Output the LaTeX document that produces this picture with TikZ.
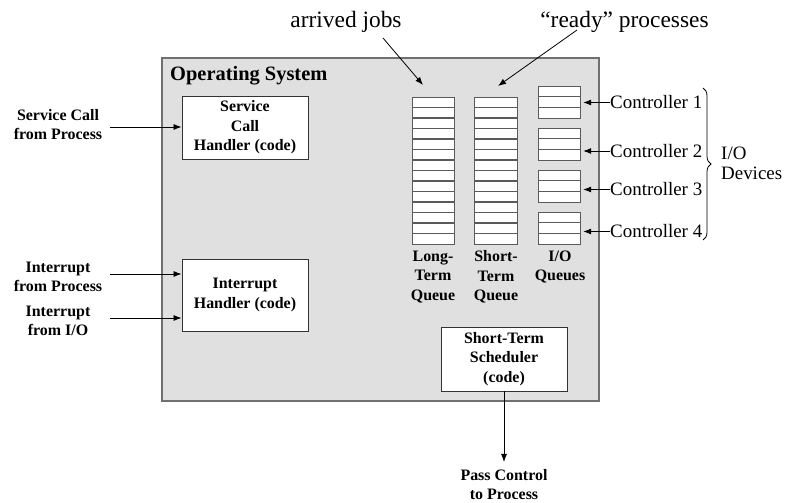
\documentclass[tikz,border=0pt]{standalone}
\usepackage{fontspec}
\setmainfont{Liberation Serif}
\usetikzlibrary{arrows.meta,decorations.pathreplacing,calc}
\definecolor{osfill}{HTML}{E0E0E0}
\definecolor{osline}{HTML}{707070}
\definecolor{qline}{HTML}{5A5A5A}
\begin{document}
\begin{tikzpicture}[x=1bp,y=-1bp,
  osbox/.style={draw=osline,line width=1.6bp,fill=osfill,inner sep=0pt},
  handler/.style={draw=black!80,line width=0.9bp,fill=white,inner sep=0pt,align=center,
    font=\bfseries\fontsize{16}{19.5}\selectfont},
  lbl/.style={inner sep=0pt,align=center,font=\bfseries\fontsize{16}{19.5}\selectfont},
  plain/.style={inner sep=0pt,font=\fontsize{19}{20}\selectfont},
  toplbl/.style={inner sep=0pt,font=\fontsize{23.5}{26}\selectfont},
  queue/.style={draw=qline,line width=1.2bp,fill=white,inner sep=0pt,anchor=north west},
  qdiv/.style={draw=qline,line width=1.2bp},
  arr/.style={-{Latex[length=8bp,width=6bp]},line width=0.8bp,black}]
\useasboundingbox (0,0) rectangle (794,503);

% operating system box
\node[osbox,anchor=north west,minimum width=437bp,minimum height=343bp] (os) at (161,57) {};
\node[anchor=base west,inner sep=0pt,font=\bfseries\fontsize{20.5}{24}\selectfont] (ostitle) at (170,81) {Operating System};

% handlers
\node[handler,minimum width=126bp,minimum height=63bp] (sch) at (245,127.5) {Service\\Call\\Handler (code)};
\node[handler,minimum width=126bp,minimum height=72bp] (ih) at (245,295) {Interrupt\\Handler (code)};
\node[handler,minimum width=126bp,minimum height=64bp] (sts) at (504,359) {Short-Term\\Scheduler\\(code)};

% queues
\node[queue,minimum width=42bp,minimum height=147bp] (ltq) at (412,97) {};
\node[queue,minimum width=43bp,minimum height=147bp] (stq) at (474,97) {};
\foreach \i in {1,...,13}{
  \draw[qdiv] (412,{97+\i*147/14}) -- (454,{97+\i*147/14});
  \draw[qdiv] (474,{97+\i*147/14}) -- (517,{97+\i*147/14});
}
\foreach \n/\t in {1/86,2/128,3/170,4/212}{
  \node[queue,minimum width=42bp,minimum height=32bp] (iq\n) at (538,\t) {};
  \draw[qdiv] (538,{\t+32/3}) -- (580,{\t+32/3});
  \draw[qdiv] (538,{\t+64/3}) -- (580,{\t+64/3});
}

% queue labels
\node[lbl] (ltql) at (433,277) {Long-\\Term\\Queue};
\node[lbl] (stql) at (496,277) {Short-\\Term\\Queue};
\node[lbl] (iql) at (560,267) {I/O\\Queues};

% left inputs
\node[lbl] (scp) at (58,124.5) {Service Call\\from Process};
\node[lbl] (ifp) at (58,277) {Interrupt\\from Process};
\node[lbl] (ifio) at (58,321) {Interrupt\\from I/O};
\coordinate (a1) at (110,127);
\coordinate (a2) at (110,274);
\coordinate (a3) at (110,318);
\draw[arr] (a1) -- (a1 -| sch.west);
\draw[arr] (a2) -- (a2 -| ih.west);
\draw[arr] (a3) -- (a3 -| ih.west);

% controllers
\node[plain,anchor=west] (c1) at (610,102.5) {Controller 1};
\node[plain,anchor=west] (c2) at (610,151) {Controller 2};
\node[plain,anchor=west] (c3) at (610,189.5) {Controller 3};
\node[plain,anchor=west] (c4) at (610,231.5) {Controller 4};
\foreach \n in {1,2,3,4}{
  \draw[arr,shorten >=2bp] (c\n.west) -- (c\n.west -| iq\n.east);
}
\draw[line width=0.8bp,decorate,decoration={brace,amplitude=8bp}] (703,88) -- (703,240);
\node[plain,anchor=west,align=left] (iod) at (721,163) {I/O\\Devices};

% top labels
\node[toplbl,anchor=base] (aj) at (346,28) {arrived jobs};
\node[toplbl,anchor=base] (rp) at (624.5,27.5) {“ready” processes};
\coordinate (aj0) at (383,38);
\coordinate (aj1) at (423,85);
\coordinate (rp0) at (577,30);
\coordinate (rp1) at (498,86);
\draw[arr] (aj0) -- (aj1);
\draw[arr] (rp0) -- (rp1);

% pass control
\node[lbl] (pc) at (504,484.5) {Pass Control\\to Process};
\draw[arr,shorten >=7bp] (sts.south) -- (pc.north);
\end{tikzpicture}
\end{document}
